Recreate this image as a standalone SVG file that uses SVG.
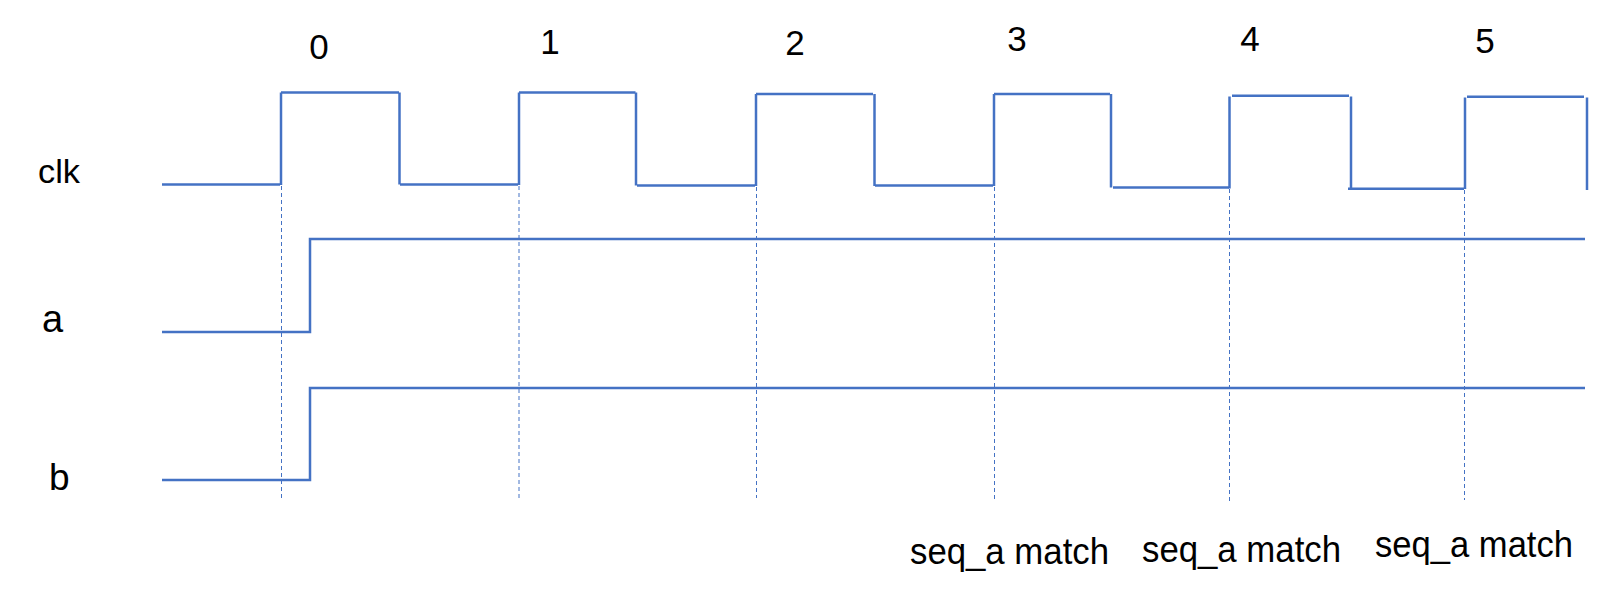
<svg xmlns="http://www.w3.org/2000/svg" width="1617" height="596" viewBox="0 0 1617 596">
<style>
.w{stroke:#4472C4;stroke-width:2.5;fill:none;stroke-linecap:butt}
.d{stroke:#4472C4;stroke-width:1;stroke-dasharray:4 3;fill:none}
.t{font-family:"Liberation Sans",Arial,sans-serif;fill:#000}
.n{font-size:35px;text-anchor:middle}
.m{font-size:36px}
</style>
<rect width="1617" height="596" fill="#fff"/>
<g id="cycle-labels" class="t n">
<text x="319" y="59">0</text>
<text x="550" y="54">1</text>
<text x="795" y="55">2</text>
<text x="1017" y="51">3</text>
<text x="1250" y="51">4</text>
<text x="1485" y="53">5</text>
</g>
<g id="signal-labels" class="t">
<text x="38" y="183" font-size="34" textLength="42" lengthAdjust="spacingAndGlyphs">clk</text>
<text x="42" y="332" font-size="38">a</text>
<text x="49" y="490" font-size="37">b</text>
</g>
<g id="clk" class="w">
<line x1="162" y1="184.5" x2="280" y2="184.5"/>
<line x1="281" y1="92.5" x2="281" y2="185"/>
<line x1="281" y1="92.5" x2="399" y2="92.5"/>
<line x1="399.5" y1="92.5" x2="399.5" y2="184.5"/>
<line x1="400" y1="184.5" x2="518" y2="184.5"/>
<line x1="519" y1="92.5" x2="519" y2="185"/>
<line x1="519" y1="92.5" x2="635.5" y2="92.5"/>
<line x1="636" y1="92.5" x2="636" y2="185.5"/>
<line x1="637" y1="185.5" x2="755" y2="185.5"/>
<line x1="756" y1="94" x2="756" y2="186"/>
<line x1="756" y1="94" x2="873" y2="94"/>
<line x1="874.5" y1="94" x2="874.5" y2="186"/>
<line x1="875" y1="185.5" x2="993" y2="185.5"/>
<line x1="994" y1="94" x2="994" y2="186"/>
<line x1="994" y1="94" x2="1110" y2="94"/>
<line x1="1111" y1="94" x2="1111" y2="187.5"/>
<line x1="1113" y1="187.5" x2="1229" y2="187.5"/>
<line x1="1229.5" y1="96.5" x2="1229.5" y2="188.5"/>
<line x1="1232" y1="95.7" x2="1349" y2="95.7"/>
<line x1="1351" y1="96.5" x2="1351" y2="188.7"/>
<line x1="1348" y1="188.7" x2="1464" y2="188.7"/>
<line x1="1465" y1="97.5" x2="1465" y2="189"/>
<line x1="1467" y1="96.7" x2="1584" y2="96.7"/>
<line x1="1587" y1="97.5" x2="1587" y2="190"/>
</g>
<g id="a" class="w">
<polyline points="162,332 310,332 310,239 1585,239"/>
</g>
<g id="b" class="w">
<polyline points="162,480 310,480 310,388 1585,388"/>
</g>
<g id="connectors" class="d">
<line x1="281.5" y1="186" x2="281.5" y2="500"/>
<line x1="519" y1="186" x2="519" y2="498"/>
<line x1="756.5" y1="187" x2="756.5" y2="498"/>
<line x1="994.5" y1="187" x2="994.5" y2="501"/>
<line x1="1229.5" y1="189" x2="1229.5" y2="504"/>
<line x1="1464.5" y1="190" x2="1464.5" y2="500"/>
</g>
<g id="match-labels" class="t m">
<text x="910" y="564" textLength="199" lengthAdjust="spacingAndGlyphs">seq_a match</text>
<text x="1142" y="562" textLength="199" lengthAdjust="spacingAndGlyphs">seq_a match</text>
<text x="1375" y="557" textLength="198" lengthAdjust="spacingAndGlyphs">seq_a match</text>
</g>
</svg>
